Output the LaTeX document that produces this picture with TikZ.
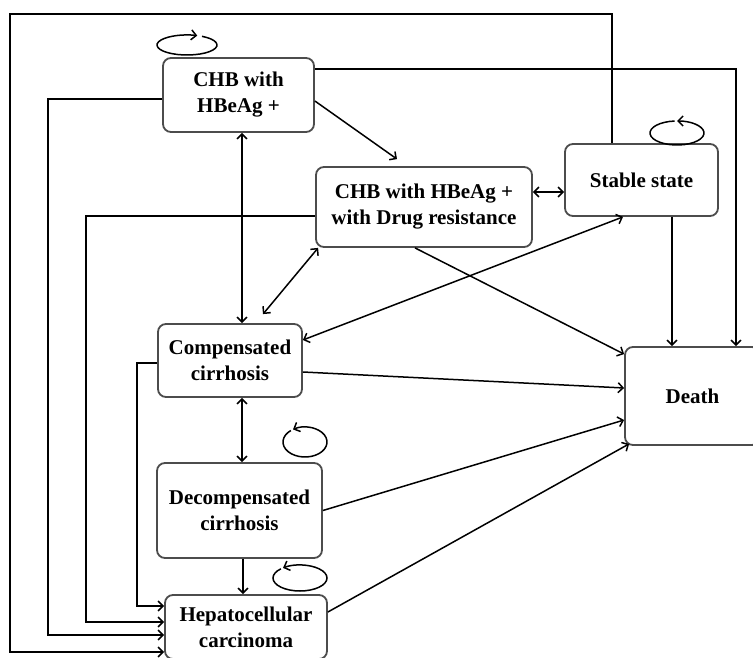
\documentclass[tikz,border=0pt]{standalone}
\usepackage{fontspec}
\setmainfont{Liberation Serif}
\usetikzlibrary{arrows.meta}

\begin{document}
\begin{tikzpicture}[
    x=1pt, y=-1pt,
    state/.style={
        rectangle,
        rounded corners=8pt,
        draw=black!70,
        line width=1.8pt,
        align=center,
        inner sep=2pt,
        font=\fontsize{21}{26}\selectfont\bfseries
    },
    link/.style={
        -{Straight Barb[length=5pt,width=10pt]},
        line width=1.5pt
    },
    twoway/.style={
        {Straight Barb[length=5pt,width=10pt]}-{Straight Barb[length=5pt,width=10pt]},
        line width=1.5pt
    }
]

\useasboundingbox (0,0) rectangle (753,658);

% States
\node[state, minimum width=151pt, minimum height=74pt] (chb) at (238.5,95) {CHB with\\HBeAg +};
\node[state, minimum width=216pt, minimum height=80pt] (drug) at (424,207) {CHB with HBeAg +\\with Drug resistance};
\node[state, minimum width=153pt, minimum height=72pt] (stable) at (641.5,180) {Stable state};
\node[state, minimum width=144pt, minimum height=73pt] (comp) at (230,360.5) {Compensated\\cirrhosis};
\node[state, minimum width=165pt, minimum height=95pt] (decomp) at (239.5,510.5) {Decompensated\\cirrhosis};
\node[state, minimum width=162pt, minimum height=64pt] (hcc) at (246,627) {Hepatocellular\\carcinoma};
\node[state, minimum width=135pt, minimum height=98pt] (death) at (692.5,396) {Death};

% Self loops
\coordinate (chbloop) at (187,45);
\coordinate (stableloop) at (677,133);
\coordinate (decomploop) at (305,442);
\coordinate (hccloop) at (300,578);
\draw[link] (chbloop) ++(60:30pt and 10pt) arc[start angle=60, end angle=-290, x radius=30pt, y radius=10pt];
\draw[link] (stableloop) ++(95:27pt and 12pt) arc[start angle=95, end angle=450, x radius=27pt, y radius=12pt];
\draw[link] (decomploop) ++(130:22pt and 15pt) arc[start angle=130, end angle=483, x radius=22pt, y radius=15pt];
\draw[link] (hccloop) ++(135:27pt and 13pt) arc[start angle=135, end angle=489, x radius=27pt, y radius=13pt];

% Long way round
\coordinate (topleft) at (10,14);
\draw[link] ([xshift=-29.5pt]stable.north) |- (topleft) |- ([yshift=-25pt]hcc.west);
\draw[link] ([yshift=26pt]chb.east) -| ([xshift=43.5pt]death.north);
\draw[link] ([yshift=-4pt]chb.west) -- ++(-114,0) |- ([yshift=-8pt]hcc.west);
\draw[link] ([yshift=-9pt]drug.west) -- ++(-229,0) |- ([yshift=5pt]hcc.west);
\draw[link] ([yshift=-2.5pt]comp.west) -- ++(-20,0) |- ([yshift=21pt]hcc.west);

% Both ways
\draw[twoway] ([xshift=3.5pt]chb.south) -- ([xshift=12pt]comp.north);
\draw[twoway] ([yshift=15pt]drug.east) -- ([yshift=15pt]drug.east -| stable.west);
\draw[twoway] ([xshift=3pt]drug.south west) -- ([xshift=33pt,yshift=9pt]comp.north);
\draw[twoway] ([xshift=-18.5pt]stable.south) -- ([yshift=20.5pt]comp.east);
\draw[twoway] ([xshift=12pt]comp.south) -- ([xshift=2.5pt]decomp.north);

% One way
\draw[link] ([yshift=-6pt]chb.east) -- ([xshift=-27pt,yshift=7pt]drug.north);
\draw[link] ([xshift=-9pt]drug.south) -- ([yshift=-8pt]death.north west);
\draw[link] ([xshift=30.5pt]stable.south) -- ([xshift=30.5pt]stable.south |- death.north);
\draw[link] ([yshift=-11.5pt]comp.east) -- ([yshift=8pt]death.west);
\draw[link] (decomp.east) -- ([yshift=-24pt]death.west);
\draw[link] ([yshift=15pt]hcc.east) -- ([xshift=5pt,yshift=2pt]death.south west);
\draw[link] ([xshift=3.5pt]decomp.south) -- ([xshift=-3pt]hcc.north);

\end{tikzpicture}
\end{document}
